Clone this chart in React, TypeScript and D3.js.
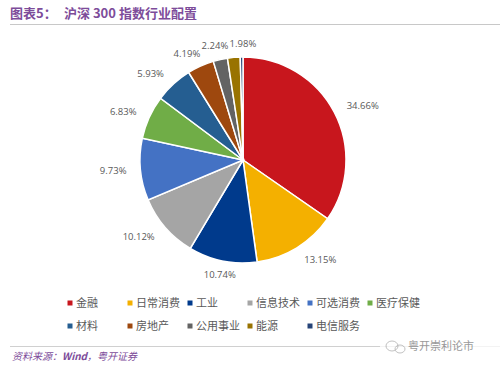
import React from "react";
import * as d3 from "d3";

// 沪深300 指数行业配置 (%)
const sectors = ["金融", "日常消费", "工业", "信息技术", "可选消费", "医疗保健", "材料", "房地产", "公用事业", "能源", "电信服务"];
const weights = [34.66, 13.15, 10.74, 10.12, 9.73, 6.83, 5.93, 4.19, 2.24, 1.98, 0.43];
const colors = ["#C8161D", "#F4B000", "#003A8C", "#A5A5A5", "#4472C4", "#70AD47", "#255E91", "#9E480E", "#636363", "#997300", "#264478"];
const hideLabelBelow = 1;

const W = 500;
const H = 370;
const cx = 243;
const cy = 160;
const R = 103;
const purple = "#7D4C9A";
const cjk = "'Noto Sans CJK SC', 'Noto Sans', sans-serif";
const labelFont = 9.5;
const labelW = 27; // rough width of "x.xx%"

const pieData = d3
    .pie<number>()
    .sort(null)
    .value((d) => d)(weights);

const arc = d3.arc<d3.PieArcDatum<number>>().innerRadius(0).outerRadius(R);

// label placement, outside end like excel
type Lbl = { i: number; x: number; y: number; anchor: string };
const labels: Lbl[] = pieData
    .map((d, i) => {
        const a = (d.startAngle + d.endAngle) / 2;
        const s = Math.sin(a);
        const c = Math.cos(a);
        const lr = R + 14;
        const anchor = s > 0.5 ? "start" : s < -0.5 ? "end" : "middle";
        return { i, x: s * lr, y: -c * lr, anchor };
    })
    .filter((l) => weights[l.i] >= hideLabelBelow);

// spread the crowded labels at the top so they don't sit on each other
const top = labels.filter((l) => l.anchor === "middle" && l.y < 0).sort((a, b) => a.x - b.x);
if (top.length > 1) {
    const gap = labelW + 1;
    const mean = d3.mean(top, (l) => l.x) as number;
    const need = gap * (top.length - 1);
    const span = top[top.length - 1].x - top[0].x;
    if (span < need) {
        top.forEach((l, k) => {
            l.x = mean - need / 2 + k * gap;
        });
    }
}

// legend grid
const legendCols = 6;
const legendX = d3.scaleLinear().domain([0, 1]).range([70, 130]);
const legendY = d3.scaleLinear().domain([0, 1]).range([303, 326]);

export default function App() {
    return (
        <svg width={W} height={H} style={{ display: "block", position: "absolute", left: 0, top: 0 }}>
            <rect width={W} height={H} fill="#fff" />
            <text x={10} y={18} fontFamily={cjk} fontSize={13} fontWeight="bold" fill={purple}>
                图表5：
            </text>
            <text x={64} y={18} fontFamily={cjk} fontSize={13} fontWeight="bold" fill={purple}>
                沪深 300 指数行业配置
            </text>
            <line x1={10} x2={500} y1={24.5} y2={24.5} stroke="#C8C8C8" strokeWidth={1} />

            <g transform={`translate(${cx},${cy})`}>
                {pieData.map((d, i) => (
                    <path key={i} d={arc(d) || ""} fill={colors[i]} stroke="#fff" strokeWidth={1.5} />
                ))}
                {labels.map((l) => (
                    <text
                        key={l.i}
                        x={l.x}
                        y={l.y}
                        dy="0.35em"
                        textAnchor={l.anchor}
                        fontFamily="'Open Sans', 'Noto Sans', sans-serif"
                        fontSize={labelFont}
                        fill="#595959"
                    >
                        {weights[l.i].toFixed(2)}%
                    </text>
                ))}
            </g>

            <g>
                {sectors.map((name, i) => {
                    const col = i % legendCols;
                    const row = Math.floor(i / legendCols);
                    const x = legendX(col);
                    const y = legendY(row);
                    return (
                        <g key={name} transform={`translate(${x},${y})`}>
                            <rect x={-2.5} y={-2.5} width={5} height={5} fill={colors[i]} />
                            <text x={6} dy="0.35em" fontFamily={cjk} fontSize={11} fill="#595959">
                                {name}
                            </text>
                        </g>
                    );
                })}
            </g>

            <line x1={10} x2={500} y1={346.5} y2={346.5} stroke="#D0D0D0" strokeWidth={1} />
            <text x={12} y={360} fontFamily={cjk} fontSize={10} fontStyle="italic" fill={purple}>
                资料来源：<tspan fontWeight="bold">Wind</tspan>，粤开证券
            </text>
            <g opacity={0.75}>
                <rect x={380} y={338} width={120} height={16} fill="#fff" />
                <ellipse cx={392} cy={346} rx={6} ry={5} fill="none" stroke="#999" strokeWidth={0.8} />
                <ellipse cx={400} cy={349} rx={5} ry={4} fill="none" stroke="#999" strokeWidth={0.8} />
                <text x={408} y={350} fontFamily={cjk} fontSize={11} fill="#777">
                    粤开崇利论市
                </text>
            </g>
        </svg>
    );
}
